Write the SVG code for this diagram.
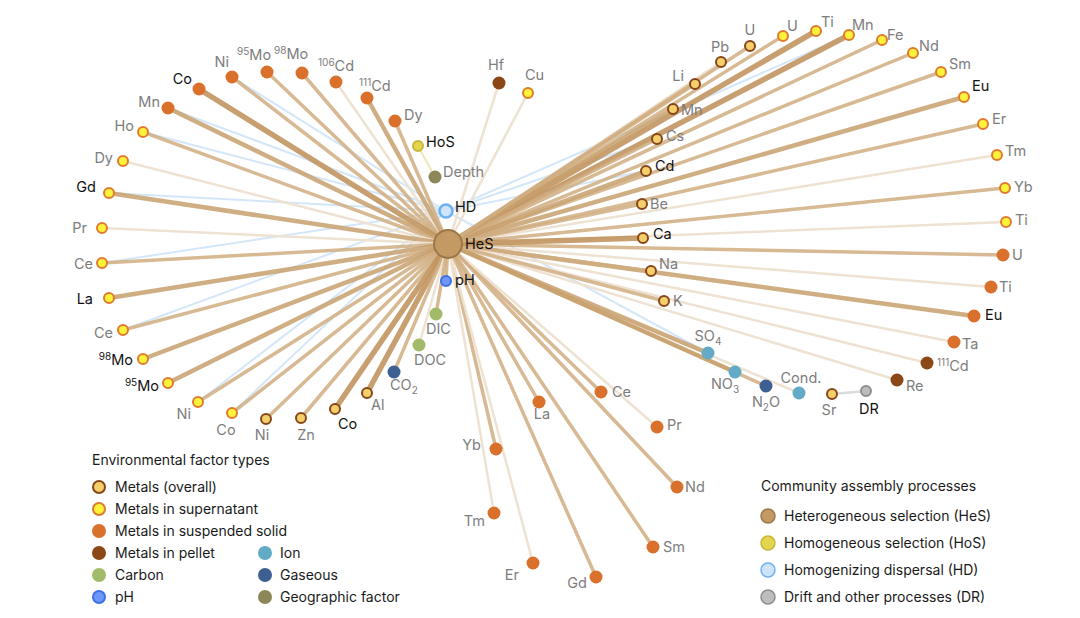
<svg xmlns="http://www.w3.org/2000/svg" width="1080" height="618" viewBox="0 0 1080 618">
<style>
text{font-family:Inter,"Liberation Sans",Arial,sans-serif;font-size:14.5px;fill:#7d7d7d}
.k{fill:#111}
.lg{font-size:14px;fill:#1a1a1a}
.sp{font-size:10px}
line{stroke-linecap:round;fill:none}
.l1{stroke:#c29560;stroke-width:5.5;opacity:.9}
.l2{stroke:#c8a06d;stroke-width:4.5;opacity:.85}
.l3{stroke:#d0ad80;stroke-width:3.5;opacity:.85}
.l4{stroke:#eee2d2;stroke-width:2.5}
.lb{stroke:#d4e7f9;stroke-width:2}
.ov{fill:#f4cf6a;stroke:#86461a;stroke-width:2}
.su{fill:#fff23a;stroke:#e07a2e;stroke-width:2}
.ss{fill:#d9702b}
.pe{fill:#8b4716}
.ca{fill:#a2bb68}
.ph{fill:#6f98f6;stroke:#3d6fee;stroke-width:2}
.io{fill:#62aac6}
.ga{fill:#3e5f92}
.ge{fill:#8c8659}
</style>
<g id="connectors">
<line class="lb" x1="446" y1="211" x2="232" y2="77"/>
<line class="lb" x1="446" y1="211" x2="168" y2="108"/>
<line class="lb" x1="446" y1="211" x2="143" y2="132"/>
<line class="lb" x1="446" y1="211" x2="109" y2="193"/>
<line class="lb" x1="446" y1="211" x2="102" y2="263"/>
<line class="lb" x1="446" y1="211" x2="123" y2="330"/>
<line class="lb" x1="446" y1="211" x2="198" y2="402"/>
<line class="lb" x1="446" y1="211" x2="232" y2="413"/>
<line class="lb" x1="446" y1="211" x2="849" y2="35"/>
<line class="lb" x1="446" y1="211" x2="646" y2="171"/>
<line class="lb" x1="446" y1="211" x2="657" y2="139"/>
<line class="lb" x1="446" y1="211" x2="708" y2="353"/>
<line style="stroke:#ece8b8;stroke-width:2" x1="418" y1="146" x2="435" y2="177"/>
<line style="stroke:#dcdcdc;stroke-width:2.5" x1="832" y1="394" x2="866" y2="391"/>
<line class="l3" x1="448" y1="244" x2="232" y2="77"/>
<line class="l3" x1="448" y1="244" x2="267" y2="72"/>
<line class="l3" x1="448" y1="244" x2="302" y2="73"/>
<line class="l4" x1="448" y1="244" x2="336" y2="82"/>
<line class="l2" x1="448" y1="244" x2="367" y2="98"/>
<line class="l3" x1="448" y1="244" x2="395" y2="121"/>
<line class="l1" x1="448" y1="244" x2="199" y2="89"/>
<line class="l2" x1="448" y1="244" x2="168" y2="108"/>
<line class="l3" x1="448" y1="244" x2="143" y2="132"/>
<line class="l4" x1="448" y1="244" x2="123" y2="161"/>
<line class="l2" x1="448" y1="244" x2="109" y2="193"/>
<line class="l4" x1="448" y1="244" x2="102" y2="228"/>
<line class="l3" x1="448" y1="244" x2="102" y2="263"/>
<line class="l2" x1="448" y1="244" x2="109" y2="298"/>
<line class="l3" x1="448" y1="244" x2="123" y2="330"/>
<line class="l2" x1="448" y1="244" x2="143" y2="359"/>
<line class="l2" x1="448" y1="244" x2="168" y2="383"/>
<line class="l3" x1="448" y1="244" x2="198" y2="402"/>
<line class="l3" x1="448" y1="244" x2="232" y2="413"/>
<line class="l3" x1="448" y1="244" x2="266" y2="419"/>
<line class="l3" x1="448" y1="244" x2="301" y2="418"/>
<line class="l1" x1="448" y1="244" x2="335" y2="409"/>
<line class="l1" x1="448" y1="244" x2="367" y2="393"/>
<line class="l3" x1="448" y1="244" x2="394" y2="372"/>
<line class="l4" x1="448" y1="244" x2="419" y2="345"/>
<line class="l3" x1="448" y1="244" x2="436" y2="314"/>
<line class="l3" x1="448" y1="244" x2="446" y2="281"/>
<line class="l4" x1="448" y1="244" x2="499" y2="83"/>
<line class="l4" x1="448" y1="244" x2="528" y2="93"/>
<line class="l3" x1="448" y1="244" x2="539" y2="402"/>
<line class="l3" x1="448" y1="244" x2="601" y2="392"/>
<line class="l4" x1="448" y1="244" x2="657" y2="427"/>
<line class="l3" x1="448" y1="244" x2="496" y2="449"/>
<line class="l3" x1="448" y1="244" x2="677" y2="487"/>
<line class="l4" x1="448" y1="244" x2="494" y2="513"/>
<line class="l3" x1="448" y1="244" x2="653" y2="547"/>
<line class="l4" x1="448" y1="244" x2="533" y2="563"/>
<line class="l3" x1="448" y1="244" x2="596" y2="577"/>
<line class="l4" x1="448" y1="244" x2="721" y2="62"/>
<line class="l3" x1="448" y1="244" x2="750" y2="46"/>
<line class="l3" x1="448" y1="244" x2="783" y2="36"/>
<line class="l1" x1="448" y1="244" x2="816" y2="31"/>
<line class="l1" x1="448" y1="244" x2="849" y2="35"/>
<line class="l3" x1="448" y1="244" x2="882" y2="40"/>
<line class="l3" x1="448" y1="244" x2="913" y2="53"/>
<line class="l3" x1="448" y1="244" x2="941" y2="72"/>
<line class="l2" x1="448" y1="244" x2="964" y2="97"/>
<line class="l3" x1="448" y1="244" x2="983" y2="124"/>
<line class="l4" x1="448" y1="244" x2="997" y2="155"/>
<line class="l3" x1="448" y1="244" x2="1005" y2="188"/>
<line class="l4" x1="448" y1="244" x2="1006" y2="222"/>
<line class="l3" x1="448" y1="244" x2="1003" y2="255"/>
<line class="l4" x1="448" y1="244" x2="991" y2="287"/>
<line class="l2" x1="448" y1="244" x2="974" y2="316"/>
<line class="l4" x1="448" y1="244" x2="954" y2="342"/>
<line class="l4" x1="448" y1="244" x2="927" y2="363"/>
<line class="l4" x1="448" y1="244" x2="897" y2="380"/>
<line class="l4" x1="448" y1="244" x2="799" y2="393"/>
<line class="l3" x1="448" y1="244" x2="766" y2="386"/>
<line class="l2" x1="448" y1="244" x2="735" y2="372"/>
<line class="l2" x1="448" y1="244" x2="708" y2="353"/>
<line class="l3" x1="448" y1="244" x2="664" y2="301"/>
<line class="l3" x1="448" y1="244" x2="651" y2="271"/>
<line class="l1" x1="448" y1="244" x2="643" y2="238"/>
<line class="l3" x1="448" y1="244" x2="642" y2="204"/>
<line class="l2" x1="448" y1="244" x2="646" y2="171"/>
<line class="l3" x1="448" y1="244" x2="657" y2="139"/>
<line class="l2" x1="448" y1="244" x2="673" y2="109"/>
<line class="l3" x1="448" y1="244" x2="695" y2="84"/>
</g>
<g id="n-ni-ss-1"><circle class="ss" cx="232" cy="77" r="6.5"/><text x="229" y="67" text-anchor="end">Ni</text></g>
<g id="n-95mo-ss"><circle class="ss" cx="267" cy="72" r="6.5"/><text x="237" y="60"><tspan class="sp" dy="-5">95</tspan><tspan dy="5">Mo</tspan></text></g>
<g id="n-98mo-ss"><circle class="ss" cx="302" cy="73" r="6.5"/><text x="274" y="59"><tspan class="sp" dy="-5">98</tspan><tspan dy="5">Mo</tspan></text></g>
<g id="n-106cd-ss"><circle class="ss" cx="336" cy="82" r="6.5"/><text x="318" y="71"><tspan class="sp" dy="-5">106</tspan><tspan dy="5">Cd</tspan></text></g>
<g id="n-111cd-ss"><circle class="ss" cx="367" cy="98" r="6.5"/><text x="359" y="91"><tspan class="sp" dy="-5">111</tspan><tspan dy="5">Cd</tspan></text></g>
<g id="n-dy-ss"><circle class="ss" cx="395" cy="121" r="6.5"/><text x="404" y="120">Dy</text></g>
<g id="n-co-ss"><circle class="ss" cx="199" cy="89" r="6.5"/><text class="k" x="192" y="84" text-anchor="end">Co</text></g>
<g id="n-mn-ss"><circle class="ss" cx="168" cy="108" r="6.5"/><text x="160" y="107" text-anchor="end">Mn</text></g>
<g id="n-ho-su"><circle class="su" cx="143" cy="132" r="5"/><text x="134" y="131" text-anchor="end">Ho</text></g>
<g id="n-dy-su"><circle class="su" cx="123" cy="161" r="5"/><text x="113" y="163" text-anchor="end">Dy</text></g>
<g id="n-gd-su"><circle class="su" cx="109" cy="193" r="5"/><text class="k" x="96" y="192" text-anchor="end">Gd</text></g>
<g id="n-pr-su"><circle class="su" cx="102" cy="228" r="5"/><text x="87" y="233" text-anchor="end">Pr</text></g>
<g id="n-ce-su-1"><circle class="su" cx="102" cy="263" r="5"/><text x="93" y="269" text-anchor="end">Ce</text></g>
<g id="n-la-su"><circle class="su" cx="109" cy="298" r="5"/><text class="k" x="93" y="304" text-anchor="end">La</text></g>
<g id="n-ce-su-2"><circle class="su" cx="123" cy="330" r="5"/><text x="113" y="338" text-anchor="end">Ce</text></g>
<g id="n-98mo-su"><circle class="su" cx="143" cy="359" r="5"/><text class="k" x="133" y="365" text-anchor="end"><tspan class="sp" dy="-5">98</tspan><tspan dy="5">Mo</tspan></text></g>
<g id="n-95mo-su"><circle class="su" cx="168" cy="383" r="5"/><text class="k" x="159" y="391" text-anchor="end"><tspan class="sp" dy="-5">95</tspan><tspan dy="5">Mo</tspan></text></g>
<g id="n-ni-su"><circle class="su" cx="198" cy="402" r="5"/><text x="191" y="419" text-anchor="end">Ni</text></g>
<g id="n-co-su"><circle class="su" cx="232" cy="413" r="5"/><text x="226" y="435" text-anchor="middle">Co</text></g>
<g id="n-ni-ov"><circle class="ov" cx="266" cy="419" r="5"/><text x="262" y="440" text-anchor="middle">Ni</text></g>
<g id="n-zn-ov"><circle class="ov" cx="301" cy="418" r="5"/><text x="306" y="440" text-anchor="middle">Zn</text></g>
<g id="n-co-ov"><circle class="ov" cx="335" cy="409" r="5"/><text class="k" x="338" y="429">Co</text></g>
<g id="n-al-ov"><circle class="ov" cx="367" cy="393" r="5"/><text x="371" y="410">Al</text></g>
<g id="n-co2"><circle class="ga" cx="394" cy="372" r="6.5"/><text x="390" y="390">CO<tspan class="sp" dy="4">2</tspan></text></g>
<g id="n-doc"><circle class="ca" cx="419" cy="345" r="6.5"/><text x="414" y="365">DOC</text></g>
<g id="n-dic"><circle class="ca" cx="436" cy="314" r="6.5"/><text x="426" y="334">DIC</text></g>
<g id="n-ph"><circle class="ph" cx="446" cy="281" r="5"/><text class="k" x="455" y="285">pH</text></g>
<g id="n-depth"><circle class="ge" cx="435" cy="177" r="6.5"/><text x="443" y="177">Depth</text></g>
<g id="n-hf-pe"><circle class="pe" cx="499" cy="83" r="6.5"/><text x="496" y="70" text-anchor="middle">Hf</text></g>
<g id="n-cu-su"><circle class="su" cx="528" cy="93" r="5"/><text x="525" y="80">Cu</text></g>
<g id="n-la-ss"><circle class="ss" cx="539" cy="402" r="6.5"/><text x="542" y="419" text-anchor="middle">La</text></g>
<g id="n-ce-ss"><circle class="ss" cx="601" cy="392" r="6.5"/><text x="612" y="397">Ce</text></g>
<g id="n-pr-ss"><circle class="ss" cx="657" cy="427" r="6.5"/><text x="667" y="430">Pr</text></g>
<g id="n-yb-ss"><circle class="ss" cx="496" cy="449" r="6.5"/><text x="481" y="450" text-anchor="end">Yb</text></g>
<g id="n-nd-ss"><circle class="ss" cx="677" cy="487" r="6.5"/><text x="685" y="492">Nd</text></g>
<g id="n-tm-ss"><circle class="ss" cx="494" cy="513" r="6.5"/><text x="485" y="526" text-anchor="end">Tm</text></g>
<g id="n-sm-ss"><circle class="ss" cx="653" cy="547" r="6.5"/><text x="663" y="552">Sm</text></g>
<g id="n-er-ss"><circle class="ss" cx="533" cy="563" r="6.5"/><text x="519" y="580" text-anchor="end">Er</text></g>
<g id="n-gd-ss"><circle class="ss" cx="596" cy="577" r="6.5"/><text x="587" y="588" text-anchor="end">Gd</text></g>
<g id="n-pb-ov"><circle class="ov" cx="721" cy="62" r="5"/><text x="720" y="52" text-anchor="middle">Pb</text></g>
<g id="n-u-ov"><circle class="ov" cx="750" cy="46" r="5"/><text x="750" y="35" text-anchor="middle">U</text></g>
<g id="n-u-su"><circle class="su" cx="783" cy="36" r="5"/><text x="787" y="31">U</text></g>
<g id="n-ti-su-1"><circle class="su" cx="816" cy="31" r="5"/><text x="821" y="27">Ti</text></g>
<g id="n-mn-su"><circle class="su" cx="849" cy="35" r="5"/><text x="852" y="30">Mn</text></g>
<g id="n-fe-su"><circle class="su" cx="882" cy="40" r="5"/><text x="887" y="40">Fe</text></g>
<g id="n-nd-su"><circle class="su" cx="913" cy="53" r="5"/><text x="919" y="51">Nd</text></g>
<g id="n-sm-su"><circle class="su" cx="941" cy="72" r="5"/><text x="949" y="69">Sm</text></g>
<g id="n-eu-su"><circle class="su" cx="964" cy="97" r="5"/><text class="k" x="972" y="91">Eu</text></g>
<g id="n-er-su"><circle class="su" cx="983" cy="124" r="5"/><text x="992" y="124">Er</text></g>
<g id="n-tm-su"><circle class="su" cx="997" cy="155" r="5"/><text x="1005" y="156">Tm</text></g>
<g id="n-yb-su"><circle class="su" cx="1005" cy="188" r="5"/><text x="1014" y="192">Yb</text></g>
<g id="n-ti-su-2"><circle class="su" cx="1006" cy="222" r="5"/><text x="1015" y="225">Ti</text></g>
<g id="n-u-ss"><circle class="ss" cx="1003" cy="255" r="6.5"/><text x="1012" y="260">U</text></g>
<g id="n-ti-ss"><circle class="ss" cx="991" cy="287" r="6.5"/><text x="999" y="292">Ti</text></g>
<g id="n-eu-ss"><circle class="ss" cx="974" cy="316" r="6.5"/><text class="k" x="985" y="320">Eu</text></g>
<g id="n-ta-ss"><circle class="ss" cx="954" cy="342" r="6.5"/><text x="962" y="349">Ta</text></g>
<g id="n-111cd-pe"><circle class="pe" cx="927" cy="363" r="6.5"/><text x="937" y="371"><tspan class="sp" dy="-5">111</tspan><tspan dy="5">Cd</tspan></text></g>
<g id="n-re-pe"><circle class="pe" cx="897" cy="380" r="6.5"/><text x="906" y="391">Re</text></g>
<g id="n-sr-ov"><circle class="ov" cx="832" cy="394" r="5"/><text x="829" y="415" text-anchor="middle">Sr</text></g>
<g id="n-cond"><circle class="io" cx="799" cy="393" r="6.5"/><text x="801" y="383" text-anchor="middle">Cond.</text></g>
<g id="n-n2o"><circle class="ga" cx="766" cy="386" r="6.5"/><text x="766" y="407" text-anchor="middle">N<tspan class="sp" dy="4">2</tspan><tspan dy="-4">O</tspan></text></g>
<g id="n-no3"><circle class="io" cx="735" cy="372" r="6.5"/><text x="725" y="389" text-anchor="middle">NO<tspan class="sp" dy="4">3</tspan></text></g>
<g id="n-so4"><circle class="io" cx="708" cy="353" r="6.5"/><text x="708" y="341" text-anchor="middle">SO<tspan class="sp" dy="4">4</tspan></text></g>
<g id="n-k-ov"><circle class="ov" cx="664" cy="301" r="5"/><text x="673" y="306">K</text></g>
<g id="n-na-ov"><circle class="ov" cx="651" cy="271" r="5"/><text x="659" y="269">Na</text></g>
<g id="n-ca-ov"><circle class="ov" cx="643" cy="238" r="5"/><text class="k" x="653" y="239">Ca</text></g>
<g id="n-be-ov"><circle class="ov" cx="642" cy="204" r="5"/><text x="650" y="209">Be</text></g>
<g id="n-cd-ov"><circle class="ov" cx="646" cy="171" r="5"/><text class="k" x="655" y="171">Cd</text></g>
<g id="n-cs-ov"><circle class="ov" cx="657" cy="139" r="5"/><text x="666" y="141">Cs</text></g>
<g id="n-mn-ov"><circle class="ov" cx="673" cy="109" r="5"/><text x="681" y="115">Mn</text></g>
<g id="n-li-ov"><circle class="ov" cx="695" cy="84" r="5"/><text x="684" y="81" text-anchor="end">Li</text></g>
<g id="n-dr"><circle cx="866" cy="391" r="5" fill="#bdbdbd" stroke="#8e8e8e" stroke-width="2"/><text class="k" x="869" y="414" text-anchor="middle">DR</text></g>
<g id="n-hos"><circle cx="418" cy="146" r="5" fill="#e3d54e" stroke="#c7b63c" stroke-width="2"/><text class="k" x="426" y="147">HoS</text></g>
<g id="n-hd"><circle cx="446" cy="211" r="6.5" fill="#cde4fa" stroke="#6eb1f2" stroke-width="2.5"/><text class="k" x="455" y="212">HD</text></g>
<g id="n-hes"><circle cx="448" cy="244" r="14" fill="#c39a63" stroke="#9d7646" stroke-width="2"/><text class="k" x="465" y="249">HeS</text></g>
<g id="legend-env">
<text class="lg" x="92" y="465">Environmental factor types</text>
<circle class="ov" cx="99" cy="487" r="6"/><text class="lg" x="115" y="492">Metals (overall)</text>
<circle class="su" cx="99" cy="509" r="6"/><text class="lg" x="115" y="514">Metals in supernatant</text>
<circle class="ss" cx="99" cy="531" r="7"/><text class="lg" x="115" y="536">Metals in suspended solid</text>
<circle class="pe" cx="99" cy="553" r="7"/><text class="lg" x="115" y="558">Metals in pellet</text>
<circle class="ca" cx="99" cy="575" r="7"/><text class="lg" x="115" y="580">Carbon</text>
<circle class="ph" cx="99" cy="597" r="6"/><text class="lg" x="115" y="602">pH</text>
<circle class="io" cx="265" cy="553" r="7"/><text class="lg" x="280" y="558">Ion</text>
<circle class="ga" cx="265" cy="575" r="7"/><text class="lg" x="280" y="580">Gaseous</text>
<circle class="ge" cx="265" cy="597" r="7"/><text class="lg" x="280" y="602">Geographic factor</text>
</g>
<g id="legend-proc">
<text class="lg" x="761" y="491">Community assembly processes</text>
<circle cx="768" cy="516" r="7" fill="#c39a63" stroke="#9d7646" stroke-width="1.5"/><text class="lg" x="784" y="521">Heterogeneous selection (HeS)</text>
<circle cx="768" cy="543" r="7" fill="#e3d54e" stroke="#c7b63c" stroke-width="1.5"/><text class="lg" x="784" y="548">Homogeneous selection (HoS)</text>
<circle cx="768" cy="570" r="7" fill="#cde4fa" stroke="#6eb1f2" stroke-width="1.5"/><text class="lg" x="784" y="575">Homogenizing dispersal (HD)</text>
<circle cx="768" cy="597" r="7" fill="#bdbdbd" stroke="#8e8e8e" stroke-width="1.5"/><text class="lg" x="784" y="602">Drift and other processes (DR)</text>
</g>
</svg>
